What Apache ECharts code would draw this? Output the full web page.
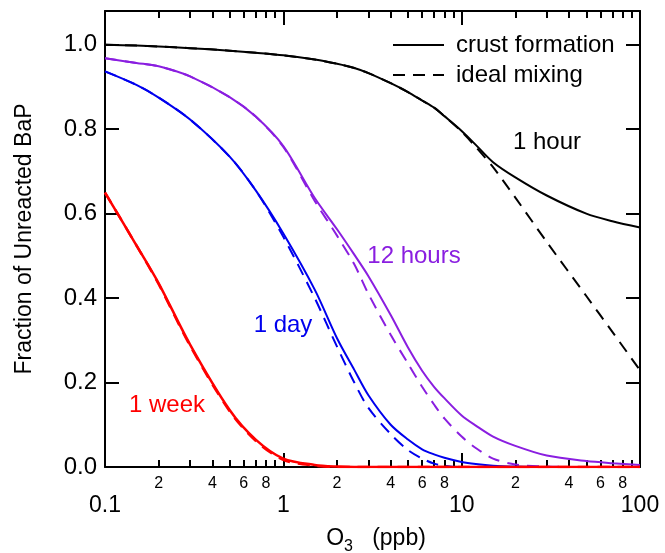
<!DOCTYPE html>
<html>
<head>
<meta charset="utf-8">
<script src="https://cdn.jsdelivr.net/npm/echarts@6/dist/echarts.min.js"></script>
<style>
  html, body { margin: 0; padding: 0; background: #fff; }
</style>
</head>
<body>
<div id="chart" style="width: 665px; height: 553px;"></div>
<script>
// O3 (ppb) sample points shared by all curves
const o3 = [0.1, 0.15, 0.2, 0.3, 0.5, 0.7, 1, 1.5, 2, 2.5, 3, 4, 5, 6, 7, 8, 10, 12, 15, 20, 30, 50, 70, 100]

// fraction of unreacted BaP, solid = crust formation, dashed = ideal mixing
const hourCrust = [1.000, 0.998, 0.996, 0.992, 0.986, 0.981, 0.975, 0.965, 0.955, 0.945, 0.933, 0.909, 0.888, 0.868, 0.851, 0.831, 0.796, 0.763, 0.722, 0.686, 0.643, 0.600, 0.582, 0.567]
const hourIdeal = [1.000, 0.998, 0.996, 0.992, 0.986, 0.981, 0.975, 0.965, 0.955, 0.945, 0.933, 0.909, 0.888, 0.868, 0.851, 0.831, 0.794, 0.758, 0.710, 0.638, 0.533, 0.405, 0.320, 0.229]
const halfDayCrust = [0.968, 0.957, 0.949, 0.925, 0.876, 0.830, 0.760, 0.637, 0.563, 0.503, 0.452, 0.360, 0.283, 0.228, 0.190, 0.163, 0.122, 0.098, 0.072, 0.050, 0.027, 0.014, 0.009, 0.005]
const halfDayIdeal = [0.968, 0.957, 0.949, 0.925, 0.876, 0.830, 0.758, 0.630, 0.548, 0.480, 0.410, 0.313, 0.245, 0.190, 0.148, 0.115, 0.072, 0.045, 0.020, 0.006, 0.001, 0, 0, 0]
const dayCrust = [0.937, 0.905, 0.875, 0.823, 0.735, 0.655, 0.553, 0.420, 0.305, 0.230, 0.170, 0.100, 0.065, 0.042, 0.030, 0.022, 0.012, 0.007, 0.003, 0.001, 0, 0, 0, 0]
const dayIdeal = [0.937, 0.905, 0.875, 0.823, 0.735, 0.655, 0.545, 0.400, 0.285, 0.200, 0.140, 0.078, 0.040, 0.020, 0.008, 0.003, 0, 0, 0, 0, 0, 0, 0, 0]
const weekCrust = [0.650, 0.525, 0.435, 0.290, 0.135, 0.065, 0.020, 0.005, 0.001, 0, 0, 0, 0, 0, 0, 0, 0, 0, 0, 0, 0, 0, 0, 0]
const weekIdeal = [0.650, 0.525, 0.433, 0.287, 0.132, 0.062, 0.017, 0.003, 0, 0, 0, 0, 0, 0, 0, 0, 0, 0, 0, 0, 0, 0, 0, 0]

// tick labels
const minorLabels = [0.2, 0.4, 0.6, 0.8, 2, 4, 6, 8, 20, 40, 60, 80]
const yTicks = [0, 0.2, 0.4, 0.6, 0.8, 1.0]

const FONT = '"Liberation Sans", Arial, Helvetica, sans-serif'
const PURPLE = '#8a1ee0'
const BLUE = '#0000ee'
const RED = '#ff0000'
const DASH = [12, 8]

function pairs (ys) {
  return o3.map((x, i) => [x, ys[i]])
}

function curve (name, ys, color, dashed, z) {
  return {
    name: name,
    type: 'line',
    xAxisIndex: 0,
    yAxisIndex: 0,
    data: pairs(ys),
    smooth: 0.3,
    symbol: 'none',
    z: z,
    lineStyle: { color: color, width: color === RED ? 2.5 : 2, type: dashed ? DASH : 'solid' },
    itemStyle: { color: color }
  }
}

const axisLine = { show: true, onZero: false, lineStyle: { color: '#000', width: 2 } }

// log axis: major ticks at decades, minor ticks at 2..9 (9 linear splits per decade)
function logAxis (position, labels) {
  return {
    type: 'log',
    logBase: 10,
    position: position,
    min: 0.1,
    max: 100,
    axisLine: axisLine,
    splitLine: { show: false },
    axisTick: { show: true, inside: true, length: 14, lineStyle: { color: '#000', width: 2 } },
    minorTick: { show: true, splitNumber: 9, length: 7, lineStyle: { color: '#000', width: 2 } },
    axisLabel: {
      show: labels,
      margin: 27,
      color: '#000',
      fontSize: 23,
      fontFamily: FONT,
      formatter: v => String(v)
    }
  }
}

const chart = echarts.init(document.getElementById('chart'), null, { renderer: 'canvas' })

chart.setOption({
  animation: false,
  backgroundColor: '#fff',
  grid: { left: 105, right: 25, top: 11, bottom: 86, outerBoundsContain: 'axisLabel' },
  legend: {
    data: ['crust formation', 'ideal mixing'],
    orient: 'vertical',
    left: 387,
    top: 28,
    itemWidth: 51,
    itemHeight: 14,
    itemGap: 6,
    itemStyle: { opacity: 0, borderWidth: 0 },
    textStyle: { fontSize: 24, fontFamily: FONT, color: '#000', padding: [0, 0, 0, 7] },
    selectedMode: false
  },
  xAxis: [
    logAxis('bottom', true),
    logAxis('top', false),
    // helper axis in log10 units, only carries the small 2/4/6/8 labels
    {
      type: 'value',
      position: 'bottom',
      min: -1,
      max: 2,
      axisLine: { show: false, onZero: false },
      splitLine: { show: false },
      axisTick: { show: false },
      axisLabel: {
        margin: 9,
        color: '#000',
        fontSize: 16,
        fontFamily: FONT,
        customValues: minorLabels.map(v => Math.log10(v)),
        formatter: function (v) {
          return String(Math.round(Math.pow(10, v - Math.floor(v + 1e-9))))
        }
      }
    }
  ],
  yAxis: [
    {
      type: 'value',
      position: 'left',
      min: 0,
      max: 1.08,
      axisLine: axisLine,
      splitLine: { show: false },
      axisTick: { show: true, inside: true, length: 14, lineStyle: { color: '#000', width: 2 }, customValues: yTicks },
      axisLabel: {
        margin: 8,
        color: '#000',
        fontSize: 24,
        fontFamily: FONT,
        customValues: yTicks,
        formatter: v => v.toFixed(1)
      },
      name: 'Fraction of Unreacted BaP',
      nameLocation: 'middle',
      nameGap: 69,
      nameTextStyle: { fontSize: 23, fontFamily: FONT, color: '#000' }
    },
    {
      type: 'value',
      position: 'right',
      min: 0,
      max: 1.08,
      axisLine: axisLine,
      splitLine: { show: false },
      axisTick: { show: true, inside: true, length: 14, lineStyle: { color: '#000', width: 2 }, customValues: yTicks },
      axisLabel: { show: false }
    }
  ],
  series: [
    curve('crust formation', hourCrust, '#000', false, 3),
    curve('ideal mixing', hourIdeal, '#000', true, 3),
    curve('12 hours crust', halfDayCrust, PURPLE, false, 4),
    curve('12 hours ideal', halfDayIdeal, PURPLE, true, 4),
    curve('1 day crust', dayCrust, BLUE, false, 5),
    curve('1 day ideal', dayIdeal, BLUE, true, 5),
    curve('1 week crust', weekCrust, RED, false, 6),
    curve('1 week ideal', weekIdeal, RED, true, 6)
  ],
  graphic: [
    {
      type: 'text',
      x: 376,
      y: 539,
      style: {
        text: '{a|O}{s|3}{a|   (ppb)}',
        align: 'center',
        verticalAlign: 'middle',
        rich: {
          a: { fontSize: 23, fontFamily: FONT, fill: '#000' },
          s: { fontSize: 16, fontFamily: FONT, fill: '#000', padding: [16, 0, 0, 0] }
        }
      }
    },
    { type: 'text', x: 547, y: 142, style: { text: '1 hour', fill: '#000', font: '24px ' + FONT, align: 'center', verticalAlign: 'middle' } },
    { type: 'text', x: 414, y: 256, style: { text: '12 hours', fill: PURPLE, font: '24px ' + FONT, align: 'center', verticalAlign: 'middle' } },
    { type: 'text', x: 283, y: 325, style: { text: '1 day', fill: BLUE, font: '24px ' + FONT, align: 'center', verticalAlign: 'middle' } },
    { type: 'text', x: 167, y: 405, style: { text: '1 week', fill: RED, font: '24px ' + FONT, align: 'center', verticalAlign: 'middle' } }
  ]
})
</script>
</body>
</html>
